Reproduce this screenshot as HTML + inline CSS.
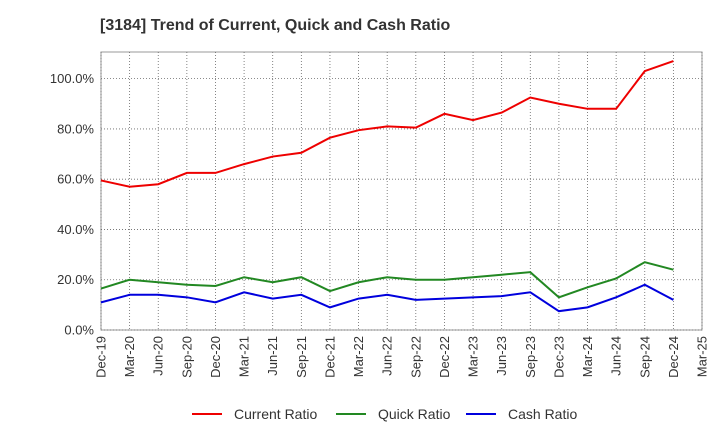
<!DOCTYPE html>
<html><head><meta charset="utf-8"><style>
body{margin:0;background:#fff;font-family:"Liberation Sans",sans-serif;}
</style></head><body>
<svg id="chart" width="720" height="440" xmlns="http://www.w3.org/2000/svg">
<text x="100" y="30" font-size="16" font-weight="bold" fill="#333">[3184]  Trend of Current, Quick and Cash Ratio</text>
<rect x="101" y="52" width="601" height="278" fill="#fff" stroke="#999"/>
<g id="grid"></g><g id="series"></g><g id="axes"></g>
<g>
<line x1="192" y1="414" x2="222" y2="414" stroke="#e00" stroke-width="2"/>
<text x="234" y="419" font-size="14" fill="#333">Current Ratio</text>
<line x1="336" y1="414" x2="366" y2="414" stroke="#282" stroke-width="2"/>
<text x="378" y="419" font-size="14" fill="#333">Quick Ratio</text>
<line x1="466" y1="414" x2="496" y2="414" stroke="#00d" stroke-width="2"/>
<text x="508" y="419" font-size="14" fill="#333">Cash Ratio</text>
</g>
</svg>
<script>
const categories=["Dec-19","Mar-20","Jun-20","Sep-20","Dec-20","Mar-21","Jun-21","Sep-21","Dec-21","Mar-22","Jun-22","Sep-22","Dec-22","Mar-23","Jun-23","Sep-23","Dec-23","Mar-24","Jun-24","Sep-24","Dec-24","Mar-25"];
const currentRatio=[59.5,57,58,62.5,62.5,66,69,70.5,76.5,79.5,81,80.5,86,83.5,86.5,92.5,90,88,88,103,107];
const quickRatio=[16.5,20,19,18,17.5,21,19,21,15.5,19,21,20,20,21,22,23,13,17,20.5,27,24];
const cashRatio=[11,14,14,13,11,15,12.5,14,9,12.5,14,12,12.5,13,13.5,15,7.5,9,13,18,12];
const yTicks=[0,20,40,60,80,100];
const NS="http://www.w3.org/2000/svg";
const x0=101,x1=702,y0=330,yMax=110.6;
const xs=i=>x0+i*(x1-x0)/(categories.length-1);
const ys=v=>y0-v*(y0-52)/yMax;
const grid=document.getElementById('grid'),axes=document.getElementById('axes'),ser=document.getElementById('series');
function mk(tag,attrs,parent){const e=document.createElementNS(NS,tag);for(const k in attrs)e.setAttribute(k,attrs[k]);parent.appendChild(e);return e;}
categories.forEach((c,i)=>{
 const g=mk('line',{x1:xs(i),x2:xs(i),y1:52,y2:330,stroke:'#666','stroke-dasharray':'1,2','stroke-width':0.8},grid);
 
 
 const t=mk('text',{transform:`translate(${xs(i)+4.5},336) rotate(-90)`,'text-anchor':'end','font-size':13,fill:'#333'},axes);
 t.textContent=c;
 
 
});
yTicks.forEach(v=>{
 const g=mk('line',{x1:101,x2:702,y1:ys(v),y2:ys(v),stroke:'#666','stroke-dasharray':'1,2','stroke-width':0.8},grid);
 
 
 const t=mk('text',{x:94,y:ys(v)+4.5,'text-anchor':'end','font-size':13,fill:'#333'},axes);
 t.textContent=v.toFixed(1)+'%';
 
 
});
[[currentRatio,'#e00','current-ratio-line'],[quickRatio,'#282','quick-ratio-line'],[cashRatio,'#00d','cash-ratio-line']].forEach(([d,col,n])=>{
 const p=mk('polyline',{points:d.map((v,i)=>xs(i)+','+ys(v)).join(' '),fill:'none',stroke:col,'stroke-width':2},ser);
 
 
});
</script>
</body></html>
